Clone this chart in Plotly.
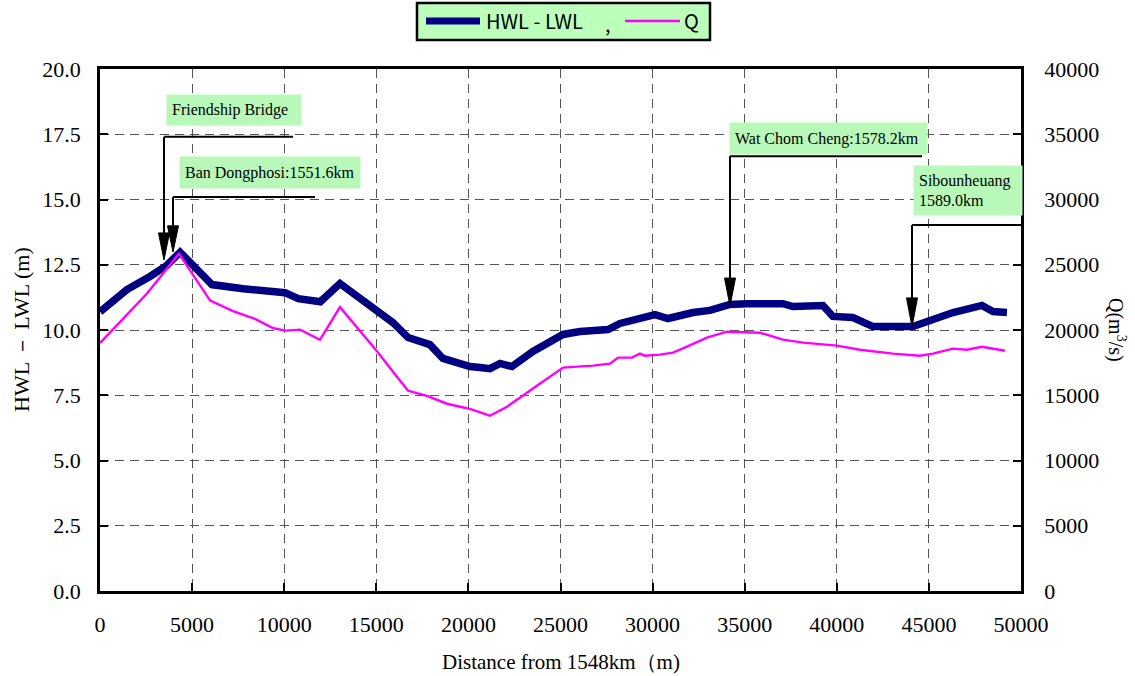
import plotly.graph_objects as go

# ---------------- data ----------------
hwl_x = [0, 1465, 2711, 3638, 4346, 6080, 7774, 9070, 10047, 10764, 11960, 13027,
         14950, 15907, 16725, 17213, 17911, 18618, 19376, 20083, 20632, 21170, 21718,
         22366, 23502, 24429, 25137, 26054, 26761, 27579, 28227, 29153, 30130, 30838,
         31486, 32193, 33110, 34197, 35124, 37077, 37615, 39250, 39788, 40875, 41961,
         43048, 44134, 46307, 47881, 48480, 49237]
hwl_y = [10.70, 11.55, 12.05, 12.48, 12.98, 11.74, 11.58, 11.48, 11.43, 11.20, 11.08, 11.78,
         10.82, 10.28, 9.71, 9.60, 9.44, 8.91, 8.75, 8.60, 8.56, 8.52, 8.72,
         8.60, 9.18, 9.52, 9.83, 9.94, 9.98, 10.02, 10.25, 10.40, 10.59, 10.44,
         10.55, 10.67, 10.75, 10.98, 11.01, 11.01, 10.90, 10.94, 10.52, 10.48, 10.13,
         10.13, 10.13, 10.67, 10.94, 10.71, 10.67]

q_x = [0, 2552, 4286, 5980, 7226, 8412, 9389, 10047, 10864, 11940, 13027, 15050,
       15907, 16725, 17751, 18838, 19545, 20083, 21170, 22097, 23721, 25137, 26761,
       27688, 28117, 28884, 29313, 29582, 30399, 31107, 31864, 32951, 34037, 35124,
       35831, 37077, 38164, 40008, 41253, 43048, 44511, 45220, 46307, 47064, 47881, 49127]
q_y = [19000, 22800, 25850, 22250, 21450, 20850, 20150, 19950, 20030, 19250, 21750, 18350,
       16800, 15350, 14950, 14350, 14120, 13950, 13430, 14120, 15730, 17120, 17270,
       17420, 17880, 17880, 18190, 18030, 18110, 18270, 18720, 19410, 19870, 19790,
       19790, 19260, 19030, 18800, 18490, 18190, 18030, 18190, 18570, 18490, 18720, 18410]

x_ticks = list(range(0, 50001, 5000))
y_ticks = [0, 2.5, 5, 7.5, 10, 12.5, 15, 17.5, 20]
y2_ticks = list(range(0, 40001, 5000))

# station annotations
st_text = ["Friendship Bridge", "Ban Dongphosi:1551.6km",
           "Wat Chom Cheng:1578.2km", "Sibounheuang<br>1589.0km"]
st_arrow_x = [3474, 3963, 34202, 44083]
st_tip_y = [12.68, 12.99, 10.92, 10.12]
st_head_top = [13.72, 13.99, 11.99, 11.23]
st_leader_y = [17.40, 15.10, 16.66, 14.02]
st_leader_end = [10478, 11672, 44625, 50000]
st_box_x = [3583, 4289, 34148, 44137]
st_box_y = [19.04, 16.66, 17.97, 16.32]
st_box_w = [134, 180, 197, 108]
st_box_h = [30, 31, 31, 49]

NAVY = "#000080"
MAG = "#ff00ff"
BOXG = "#b8f8b8"
SERIF = "Liberation Serif"

W, H = 1135, 676
ML, MR, MT, MB = 100, 114, 69, 85
PW = W - ML - MR
PH = H - MT - MB


def px(xp):
    return (xp - ML) / PW


def py(yp):
    return (H - MB - yp) / PH


fig = go.Figure()
fig.add_trace(go.Scatter(x=hwl_x, y=hwl_y, mode="lines", name="HWL - LWL",
                         line=dict(color=NAVY, width=7.5), yaxis="y", showlegend=False))
fig.add_trace(go.Scatter(x=q_x, y=q_y, mode="lines", name="Q",
                         line=dict(color=MAG, width=2.4), yaxis="y2", showlegend=False))

shapes = []
annotations = []
hw = 5.5 / PW * 50000  # half width of arrow head in data units
for i in range(len(st_text)):
    shapes.append(dict(type="line", xref="x", yref="y",
                       x0=st_arrow_x[i], x1=st_leader_end[i],
                       y0=st_leader_y[i], y1=st_leader_y[i],
                       line=dict(color="black", width=2)))
    shapes.append(dict(type="line", xref="x", yref="y",
                       x0=st_arrow_x[i], x1=st_arrow_x[i],
                       y0=st_leader_y[i], y1=st_head_top[i],
                       line=dict(color="black", width=2)))
    xa = st_arrow_x[i]
    shapes.append(dict(type="path", xref="x", yref="y",
                       path=f"M{xa},{st_tip_y[i]} L{xa - hw},{st_head_top[i]} L{xa + hw},{st_head_top[i]} Z",
                       fillcolor="black", line=dict(color="black", width=1)))
    pad = 5
    annotations.append(dict(x=st_box_x[i], y=st_box_y[i], xref="x", yref="y",
                            xanchor="left", yanchor="top", text=st_text[i],
                            showarrow=False, align="left", valign="middle",
                            width=st_box_w[i] - 2 * pad, height=st_box_h[i] - 2 * pad,
                            borderpad=pad, bgcolor=BOXG,
                            font=dict(family=SERIF, size=16, color="black")))

# custom legend
shapes.append(dict(type="rect", xref="paper", yref="paper",
                   x0=px(417), x1=px(710), y0=py(40), y1=py(3),
                   fillcolor="#bbffbb", line=dict(color="black", width=2.5), layer="above"))
shapes.append(dict(type="line", xref="paper", yref="paper",
                   x0=px(426), x1=px(480), y0=py(21), y1=py(21),
                   line=dict(color=NAVY, width=7)))
shapes.append(dict(type="line", xref="paper", yref="paper",
                   x0=px(625), x1=px(680), y0=py(21), y1=py(21),
                   line=dict(color=MAG, width=2.4)))
LEGF = "Noto Sans CJK JP"
annotations.append(dict(x=px(484), y=py(21), xref="paper", yref="paper",
                        xanchor="left", yanchor="middle", text="HWL - LWL",
                        showarrow=False, font=dict(family=LEGF, size=20, color="black")))
annotations.append(dict(x=px(603), y=py(24), xref="paper", yref="paper",
                        xanchor="left", yanchor="middle", text=",",
                        showarrow=False, font=dict(family=LEGF, size=20, color="black")))
annotations.append(dict(x=px(682), y=py(21), xref="paper", yref="paper",
                        xanchor="left", yanchor="middle", text="Q",
                        showarrow=False, font=dict(family=LEGF, size=20, color="black")))

# axis titles
annotations.append(dict(x=px(561), y=py(662), xref="paper", yref="paper",
                        xanchor="center", yanchor="middle",
                        text="Distance from 1548km（m)", showarrow=False,
                        font=dict(family=SERIF, size=21, color="black")))
annotations.append(dict(x=px(21), y=py(330), xref="paper", yref="paper",
                        xanchor="center", yanchor="middle",
                        text="HWL － LWL (m)", showarrow=False, textangle=-90,
                        font=dict(family=SERIF, size=22, color="black")))
annotations.append(dict(x=px(1117), y=py(330), xref="paper", yref="paper",
                        xanchor="center", yanchor="middle",
                        text="Q(m<sup>3</sup>/s)", showarrow=False, textangle=90,
                        font=dict(family=SERIF, size=20, color="black")))

grid = dict(showgrid=True, gridcolor="#555555", gridwidth=1.2, griddash="9px,6px")
tickf = dict(family=SERIF, size=22, color="black")

fig.update_layout(
    width=W, height=H,
    margin=dict(l=ML, r=MR, t=MT, b=MB, autoexpand=False),
    paper_bgcolor="white", plot_bgcolor="white",
    showlegend=False,
    font=dict(family=SERIF, size=21, color="black"),
    xaxis=dict(range=[0, 50000], tickvals=x_ticks, ticktext=[str(v) for v in x_ticks],
               ticks="inside", ticklen=8, tickwidth=1.5, tickcolor="black",
               showline=True, linecolor="black", linewidth=2.5, mirror=True,
               tickfont=dict(tickf), ticklabelstandoff=12, zeroline=False, automargin=False, **grid),
    yaxis=dict(range=[0, 20], tickvals=y_ticks, ticktext=[f"{v:.1f}" for v in y_ticks],
               ticks="inside", ticklen=8, tickwidth=1.5, tickcolor="black",
               showline=True, linecolor="black", linewidth=2.5, mirror=True,
               tickfont=dict(tickf), ticklabelstandoff=12, zeroline=False, automargin=False, **grid),
    yaxis2=dict(range=[0, 40000], tickvals=y2_ticks, ticktext=[str(v) for v in y2_ticks],
                overlaying="y", side="right", showgrid=False,
                ticks="inside", ticklen=8, tickwidth=1.5, tickcolor="black",
                showline=True, linecolor="black", linewidth=2.5,
                tickfont=dict(tickf), ticklabelstandoff=16, zeroline=False, automargin=False),
    shapes=shapes,
    annotations=annotations,
)

fig.write_html("out.html")
